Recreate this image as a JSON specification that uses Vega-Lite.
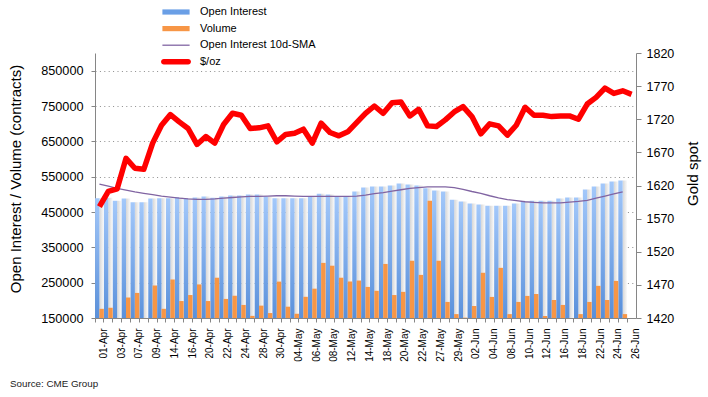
{
  "$schema": "https://vega.github.io/schema/vega-lite/v6.json",
  "width": 541,
  "height": 265,
  "autosize": "none",
  "padding": {"left": 95, "top": 53, "right": 72, "bottom": 79},
  "background": "white",
  "config": {"font": "Liberation Sans", "view": {"stroke": null}},
  "title": {"text": "Source: CME Group", "orient": "bottom", "anchor": "start", "frame": "group", "fontSize": 9.8, "fontWeight": "normal", "color": "#222", "dx": -85, "offset": 18},
  "data": {"values": [
    {"date": "01-Apr", "oi": 489000, "vol": 176000, "sma": 529000, "gold": 1588},
    {"date": "02-Apr", "oi": 490000, "vol": 179000, "sma": 523000, "gold": 1611},
    {"date": "03-Apr", "oi": 482000, "vol": 140000, "sma": 517000, "gold": 1615},
    {"date": "06-Apr", "oi": 488000, "vol": 208000, "sma": 512000, "gold": 1661},
    {"date": "07-Apr", "oi": 477600, "vol": 221000, "sma": 507000, "gold": 1646},
    {"date": "08-Apr", "oi": 477600, "vol": 140000, "sma": 503000, "gold": 1644.5},
    {"date": "09-Apr", "oi": 488000, "vol": 242000, "sma": 499000, "gold": 1684},
    {"date": "13-Apr", "oi": 489000, "vol": 176000, "sma": 495000, "gold": 1711},
    {"date": "14-Apr", "oi": 489000, "vol": 259000, "sma": 492000, "gold": 1727},
    {"date": "15-Apr", "oi": 491800, "vol": 198000, "sma": 489000, "gold": 1716},
    {"date": "16-Apr", "oi": 488000, "vol": 215000, "sma": 487000, "gold": 1706},
    {"date": "17-Apr", "oi": 491000, "vol": 245000, "sma": 486000, "gold": 1682},
    {"date": "20-Apr", "oi": 494000, "vol": 198000, "sma": 486000, "gold": 1694},
    {"date": "21-Apr", "oi": 490000, "vol": 264000, "sma": 487000, "gold": 1684},
    {"date": "22-Apr", "oi": 494000, "vol": 204000, "sma": 489000, "gold": 1712},
    {"date": "23-Apr", "oi": 496600, "vol": 213000, "sma": 491000, "gold": 1729},
    {"date": "24-Apr", "oi": 496600, "vol": 187000, "sma": 493000, "gold": 1726},
    {"date": "27-Apr", "oi": 499500, "vol": 156000, "sma": 494000, "gold": 1706},
    {"date": "28-Apr", "oi": 499500, "vol": 185000, "sma": 494000, "gold": 1707},
    {"date": "29-Apr", "oi": 494000, "vol": 164000, "sma": 495000, "gold": 1710},
    {"date": "30-Apr", "oi": 489000, "vol": 253000, "sma": 496000, "gold": 1686},
    {"date": "01-May", "oi": 489000, "vol": 182000, "sma": 496000, "gold": 1697},
    {"date": "04-May", "oi": 489000, "vol": 162000, "sma": 495000, "gold": 1699},
    {"date": "05-May", "oi": 489000, "vol": 210000, "sma": 494000, "gold": 1705},
    {"date": "06-May", "oi": 493000, "vol": 233000, "sma": 494000, "gold": 1684},
    {"date": "07-May", "oi": 502000, "vol": 306000, "sma": 494000, "gold": 1714},
    {"date": "08-May", "oi": 499500, "vol": 298000, "sma": 494000, "gold": 1700},
    {"date": "11-May", "oi": 493000, "vol": 264000, "sma": 494000, "gold": 1695},
    {"date": "12-May", "oi": 493000, "vol": 253000, "sma": 494000, "gold": 1701},
    {"date": "13-May", "oi": 508000, "vol": 256000, "sma": 495000, "gold": 1715},
    {"date": "14-May", "oi": 519000, "vol": 238000, "sma": 498000, "gold": 1729},
    {"date": "15-May", "oi": 522000, "vol": 227000, "sma": 502000, "gold": 1740},
    {"date": "18-May", "oi": 522000, "vol": 303000, "sma": 505000, "gold": 1729},
    {"date": "19-May", "oi": 525000, "vol": 215000, "sma": 509000, "gold": 1745},
    {"date": "20-May", "oi": 530700, "vol": 224000, "sma": 513000, "gold": 1746},
    {"date": "21-May", "oi": 528000, "vol": 312000, "sma": 517000, "gold": 1725},
    {"date": "22-May", "oi": 525000, "vol": 272000, "sma": 519000, "gold": 1735},
    {"date": "26-May", "oi": 517000, "vol": 482000, "sma": 521000, "gold": 1710},
    {"date": "27-May", "oi": 511000, "vol": 312000, "sma": 521000, "gold": 1709},
    {"date": "28-May", "oi": 508000, "vol": 195500, "sma": 521000, "gold": 1719},
    {"date": "29-May", "oi": 485000, "vol": 161000, "sma": 519000, "gold": 1731},
    {"date": "01-Jun", "oi": 479600, "vol": 151000, "sma": 514000, "gold": 1739},
    {"date": "02-Jun", "oi": 474000, "vol": 184000, "sma": 508000, "gold": 1724},
    {"date": "03-Jun", "oi": 471000, "vol": 278000, "sma": 503000, "gold": 1698},
    {"date": "04-Jun", "oi": 468000, "vol": 209700, "sma": 496000, "gold": 1713},
    {"date": "05-Jun", "oi": 468000, "vol": 292000, "sma": 490000, "gold": 1710},
    {"date": "08-Jun", "oi": 468000, "vol": 161000, "sma": 485000, "gold": 1696},
    {"date": "09-Jun", "oi": 474000, "vol": 195500, "sma": 482000, "gold": 1711},
    {"date": "10-Jun", "oi": 479600, "vol": 212500, "sma": 479000, "gold": 1738},
    {"date": "11-Jun", "oi": 482000, "vol": 218000, "sma": 477000, "gold": 1726},
    {"date": "12-Jun", "oi": 482000, "vol": 155700, "sma": 476000, "gold": 1726},
    {"date": "15-Jun", "oi": 482000, "vol": 201000, "sma": 476000, "gold": 1724},
    {"date": "16-Jun", "oi": 488000, "vol": 187000, "sma": 476000, "gold": 1725},
    {"date": "17-Jun", "oi": 491000, "vol": 148000, "sma": 478000, "gold": 1725},
    {"date": "18-Jun", "oi": 491000, "vol": 161000, "sma": 480000, "gold": 1720},
    {"date": "19-Jun", "oi": 513600, "vol": 195500, "sma": 483000, "gold": 1743},
    {"date": "22-Jun", "oi": 522000, "vol": 241000, "sma": 489000, "gold": 1753},
    {"date": "23-Jun", "oi": 530700, "vol": 201000, "sma": 495000, "gold": 1767},
    {"date": "24-Jun", "oi": 536000, "vol": 255000, "sma": 501000, "gold": 1759},
    {"date": "25-Jun", "oi": 539000, "vol": 161000, "sma": 507000, "gold": 1763},
    {"date": "26-Jun", "oi": null, "vol": null, "sma": null, "gold": 1757.6}
  ]},
  "encoding": {
    "x": {
      "field": "date", "type": "nominal", "sort": null, "title": null,
      "scale": {"paddingInner": 0, "paddingOuter": 0},
      "axis": {
        "bandPosition": 0, "labelOffset": 4.43, "labelAngle": -90, "labelFontSize": 10, "labelColor": "#000",
        "labelOverlap": false, "labelPadding": 6, "tickSize": 4, "tickColor": "#868686", "domainColor": "#868686",
        "grid": false,
        "labelExpr": "indexof(['01-Apr','03-Apr','07-Apr','09-Apr','14-Apr','16-Apr','20-Apr','22-Apr','24-Apr','28-Apr','30-Apr','04-May','06-May','08-May','12-May','14-May','18-May','20-May','22-May','27-May','29-May','02-Jun','04-Jun','08-Jun','10-Jun','12-Jun','16-Jun','18-Jun','22-Jun','24-Jun','26-Jun'], datum.value) >= 0 ? datum.label : ''"
      }
    }
  },
  "layer": [
    {
      "layer": [
        {
          "mark": {"type": "bar", "width": {"band": 0.5}, "xOffset": 2.2, "clip": true,
            "color": {"gradient": "linear", "x1": 0, "y1": 0, "x2": 1, "y2": 0, "stops": [{"offset": 0, "color": "#d6d6d6"}, {"offset": 1, "color": "#fbfbfb"}]}},
          "encoding": {
            "y": {"field": "oi", "type": "quantitative", "title": "Open Interest / Volume (contracts)",
              "scale": {"domain": [150000, 900000], "zero": false, "nice": false},
              "axis": {
                "values": [150000, 250000, 350000, 450000, 550000, 650000, 750000, 850000], "format": "d",
                "tickCount": 20, "labelOverlap": false, "labelBound": false,
                "labelFontSize": 12.7, "labelColor": "#000", "labelPadding": 8, "tickSize": 4,
                "tickColor": "#868686", "domainColor": "#868686",
                "grid": true, "gridColor": "#8c8c8c", "gridDash": [1, 3.4], "gridWidth": 1,
                "titleFontSize": 15, "titleFontWeight": "normal", "titleColor": "#000",
                "titleAngle": -90, "titleBaseline": "alphabetic", "titleAlign": "center", "titleX": -74.3, "titleY": 125.5
              }
            }
          }
        },
        {
          "mark": {"type": "bar", "width": {"band": 0.49}, "xOffset": -2.2, "clip": true,
            "color": {"gradient": "linear", "x1": 0, "y1": 0, "x2": 0, "y2": 1, "stops": [{"offset": 0, "color": "#a3c8fa"}, {"offset": 1, "color": "#3a78cd"}]}},
          "encoding": {"y": {"field": "oi", "type": "quantitative", "title": "Open Interest / Volume (contracts)"}}
        },
        {
          "mark": {"type": "bar", "width": {"band": 0.5}, "xOffset": 2.2, "clip": true, "color": "#f79646"},
          "encoding": {"y": {"field": "vol", "type": "quantitative", "title": "Open Interest / Volume (contracts)"}}
        },
        {
          "mark": {"type": "line", "strokeWidth": 1.3},
          "encoding": {
            "y": {"field": "sma", "type": "quantitative", "title": "Open Interest / Volume (contracts)"},
            "color": {
              "datum": "Open Interest 10d-SMA",
              "scale": {"domain": ["Open Interest", "Volume", "Open Interest 10d-SMA", "$/oz"], "range": ["#6a9fe6", "#f79646", "#8064a2", "#ff0000"]},
              "legend": {
                "orient": "none", "legendX": 75.5, "legendY": -46.5, "title": null, "padding": 0, "direction": "vertical",
                "symbolSize": 64, "labelOffset": 18.5, "labelFontSize": 11, "labelColor": "#000", "rowPadding": 4.6,
                "encode": {"symbols": {"update": {
                  "shape": {"signal": "(datum.value === 'Open Interest' || datum.value === 'Volume') ? 'M-3.4,-0.65H3.4V0.65H-3.4Z' : (datum.value === '$/oz' ? 'M-3.05,-0.69H3.05A0.69,0.69 0 0 1 3.05,0.69H-3.05A0.69,0.69 0 0 1 -3.05,-0.69Z' : 'M-3.4,-0.16H3.4V0.16H-3.4Z')"},
                  "fill": {"signal": "datum.value === 'Open Interest' ? '#6a9fe6' : (datum.value === 'Volume' ? '#f79646' : (datum.value === '$/oz' ? '#ff0000' : '#8064a2'))"},
                  "stroke": {"value": "transparent"},
                  "strokeWidth": {"value": 0},
                  "opacity": {"value": 1},
                  "fillOpacity": {"value": 1}
                }}}
              }
            }
          }
        }
      ]
    },
    {
      "mark": {"type": "line", "strokeWidth": 5.5, "strokeJoin": "round"},
      "encoding": {
        "y": {"field": "gold", "type": "quantitative", "title": "Gold spot",
          "scale": {"domain": [1420, 1820], "zero": false, "nice": false},
          "axis": {
            "orient": "right", "values": [1420, 1470, 1520, 1570, 1620, 1670, 1720, 1770, 1820], "format": "d",
            "tickCount": 20, "labelOverlap": false,
            "labelFontSize": 12.5, "labelColor": "#000", "labelPadding": 5, "tickSize": 5,
            "tickColor": "#868686", "domainColor": "#868686", "grid": false,
            "titleFontSize": 15, "titleFontWeight": "normal", "titleColor": "#000",
            "titleAngle": -90, "titleBaseline": "alphabetic", "titleAlign": "center", "titleX": 61, "titleY": 120.3
          }
        },
        "color": {"datum": "$/oz"}
      }
    }
  ],
  "resolve": {"scale": {"y": "independent"}}
}
